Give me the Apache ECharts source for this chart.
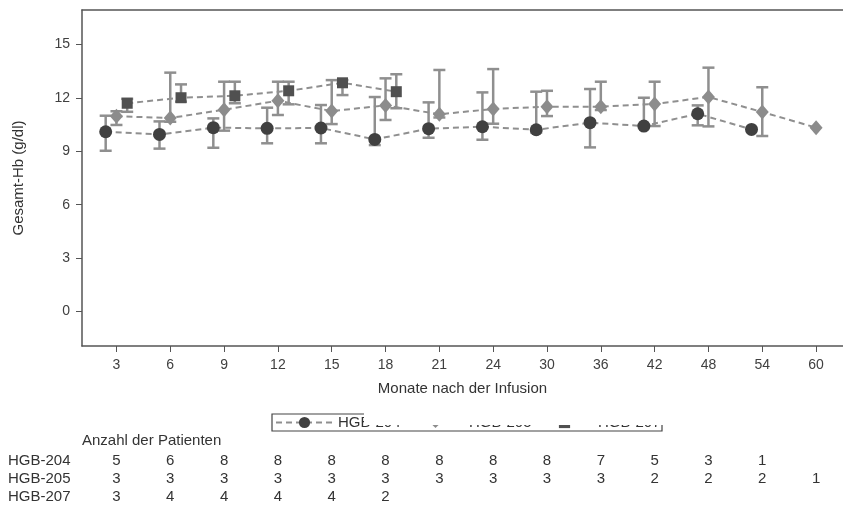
<!DOCTYPE html>
<html>
<head>
<meta charset="utf-8">
<title>Gesamt-Hb</title>
<script src="https://cdn.jsdelivr.net/npm/echarts@6/dist/echarts.min.js"></script>
<style>
    html, body { margin: 0; padding: 0; background: #fff; }
    #chart { width: 843px; height: 505px; }
</style>
</head>
<body>
<div id="chart"></div>
<script>
var months = ['3', '6', '9', '12', '15', '18', '21', '24', '30', '36', '42', '48', '54', '60'];

var hgb204Mean = [10.1, 9.95, 10.33, 10.29, 10.31, 9.67, 10.27, 10.38, 10.21, 10.61, 10.42, 11.11, 10.23, null];
var hgb204Low  = [9.03, 9.15, 9.2, 9.45, 9.45, 9.35, 9.76, 9.65, 10.05, 9.22, 10.3, 10.46, null, null];
var hgb204High = [11.0, 10.68, 10.85, 11.45, 11.6, 12.05, 11.75, 12.31, 12.35, 12.5, 12.01, 11.58, null, null];

var hgb205Mean = [10.97, 10.87, 11.34, 11.84, 11.26, 11.58, 11.08, 11.38, 11.51, 11.51, 11.66, 12.05, 11.21, 10.33];
var hgb205Low  = [10.48, 10.66, 10.16, 11.04, 10.53, 10.76, 10.9, 10.55, 10.98, 11.32, 10.42, 10.4, 9.86, null];
var hgb205High = [11.25, 13.42, 12.91, 12.91, 13.0, 13.1, 13.57, 13.62, 12.4, 12.91, 12.91, 13.7, 12.6, null];

var hgb207Mean = [11.7, 12.01, 12.12, 12.4, 12.85, 12.35];
var hgb207Low  = [11.22, 11.79, 11.7, 11.64, 12.16, 11.42];
var hgb207High = [11.95, 12.76, 12.91, 12.91, 13.0, 13.33];

// Anzahl der Patienten
var n204 = [5, 6, 8, 8, 8, 8, 8, 8, 8, 7, 5, 3, 1];
var n205 = [3, 3, 3, 3, 3, 3, 3, 3, 3, 3, 2, 2, 2, 1];
var n207 = [3, 4, 4, 4, 4, 2];

var yTicks = [0, 3, 6, 9, 12, 15];

var FONT = 'Liberation Sans, Arial, sans-serif';
var barColor = '#8f8f8f';
var xIdx = months.map(function (m, i) { return i; });
var X_MIN = -0.64, X_MAX = 13.5;

function points(mean, offset) {
    var out = [];
    for (var i = 0; i < mean.length; i++) {
        if (mean[i] != null) out.push([i + offset, mean[i]]);
    }
    return out;
}

function errorBars(low, high, offset) {
    var data = [];
    for (var i = 0; i < low.length; i++) {
        if (low[i] != null) data.push([i + offset, low[i], high[i]]);
    }
    return {
        type: 'custom',
        z: 1,
        silent: true,
        encode: { x: 0, y: [1, 2] },
        data: data,
        renderItem: function (params, api) {
            var lo = api.coord([api.value(0), api.value(1)]);
            var hi = api.coord([api.value(0), api.value(2)]);
            var w = 6;
            var st = { stroke: barColor, lineWidth: 2.5 };
            return {
                type: 'group',
                children: [
                    { type: 'line', shape: { x1: hi[0], y1: hi[1], x2: lo[0], y2: lo[1] }, style: st },
                    { type: 'line', shape: { x1: hi[0] - w, y1: hi[1], x2: hi[0] + w, y2: hi[1] }, style: st },
                    { type: 'line', shape: { x1: lo[0] - w, y1: lo[1], x2: lo[0] + w, y2: lo[1] }, style: st }
                ]
            };
        }
    };
}

function lineSeries(name, mean, offset, symbol, size, color) {
    return {
        type: 'line',
        name: name,
        z: 3,
        data: points(mean, offset),
        symbol: symbol,
        symbolSize: size,
        showAllSymbol: true,
        itemStyle: { color: color, opacity: 1 },
        lineStyle: { color: barColor, width: 2, type: [6, 4] }
    };
}

function legendItem(name, left) {
    return {
        data: [name],
        left: left,
        top: 415,
        padding: 0,
        itemWidth: 57,
        itemHeight: 14,
        selectedMode: false,
        textStyle: { fontSize: 15, color: '#333', fontFamily: FONT }
    };
}

var myChart = echarts.init(document.getElementById('chart'));

var option = {
    animation: false,
    backgroundColor: '#fff',
    textStyle: { fontFamily: FONT },
    grid: { left: 82, right: 0, top: 10, bottom: 159 },
    xAxis: [{
        type: 'value',
        min: X_MIN,
        max: X_MAX,
        name: 'Monate nach der Infusion',
        nameLocation: 'middle',
        nameGap: 35,
        nameTextStyle: { fontSize: 15, color: '#333' },
        axisLine: { onZero: false, lineStyle: { color: '#555', width: 1.5 } },
        axisTick: { customValues: xIdx, length: 6, lineStyle: { color: '#555' } },
        axisLabel: {
            customValues: xIdx,
            formatter: function (v) { return months[Math.round(v)]; },
            margin: 12, fontSize: 14, color: '#404040'
        },
        splitLine: { show: false }
    }, {
        // top frame line only
        type: 'value',
        position: 'top',
        min: X_MIN,
        max: X_MAX,
        axisLine: { show: true, onZero: false, lineStyle: { color: '#555', width: 1.5 } },
        axisTick: { show: false },
        axisLabel: { show: false },
        splitLine: { show: false }
    }],
    yAxis: {
        type: 'value',
        min: -1.94,
        max: 16.94,
        name: 'Gesamt-Hb (g/dl)',
        nameLocation: 'middle',
        nameGap: 56,
        nameTextStyle: { fontSize: 15, color: '#333' },
        axisLine: { show: true, onZero: false, lineStyle: { color: '#555', width: 1.5 } },
        axisTick: { show: true, customValues: yTicks, length: 6, lineStyle: { color: '#555' } },
        axisLabel: { customValues: yTicks, margin: 12, fontSize: 14, color: '#404040' },
        splitLine: { show: false }
    },
    legend: [
        legendItem('HGB-204', 275),
        legendItem('HGB-205', 406),
        legendItem('HGB-207', 535)
    ],
    series: [
        errorBars(hgb204Low, hgb204High, -0.2),
        errorBars(hgb205Low, hgb205High, 0),
        errorBars(hgb207Low, hgb207High, 0.2),
        lineSeries('HGB-204', hgb204Mean, -0.2, 'circle', 13, '#404040'),
        lineSeries('HGB-205', hgb205Mean, 0, 'diamond', [13, 15], '#8c8c8c'),
        lineSeries('HGB-207', hgb207Mean, 0.2, 'rect', 11, '#505050')
    ]
};
myChart.setOption(option);

// legend frame (partly covered, as in the original) and patient-count table
var g = [
    { type: 'rect', z: 90, shape: { x: 272, y: 414, width: 390, height: 17 },
      style: { fill: 'none', stroke: '#444', lineWidth: 1.2 } },
    { type: 'rect', z: 100, shape: { x: 364, y: 398, width: 301, height: 27 },
      style: { fill: '#fff' } },
    { type: 'text', z: 100, x: 82, y: 441,
      style: { text: 'Anzahl der Patienten', fill: '#333', fontSize: 15, fontFamily: FONT, verticalAlign: 'middle' } }
];
var rows = [n204, n205, n207];
var rowNames = ['HGB-204', 'HGB-205', 'HGB-207'];
var rowY = [461, 479, 497];
for (var r = 0; r < rows.length; r++) {
    g.push({ type: 'text', z: 100, x: 8, y: rowY[r],
        style: { text: rowNames[r], fill: '#333', fontSize: 15, fontFamily: FONT, verticalAlign: 'middle' } });
    for (var i = 0; i < rows[r].length; i++) {
        var px = myChart.convertToPixel({ xAxisIndex: 0 }, i);
        g.push({ type: 'text', z: 100, x: px, y: rowY[r],
            style: { text: String(rows[r][i]), fill: '#333', fontSize: 15, fontFamily: FONT,
                     align: 'center', verticalAlign: 'middle' } });
    }
}
myChart.setOption({ graphic: g });
</script>
</body>
</html>
